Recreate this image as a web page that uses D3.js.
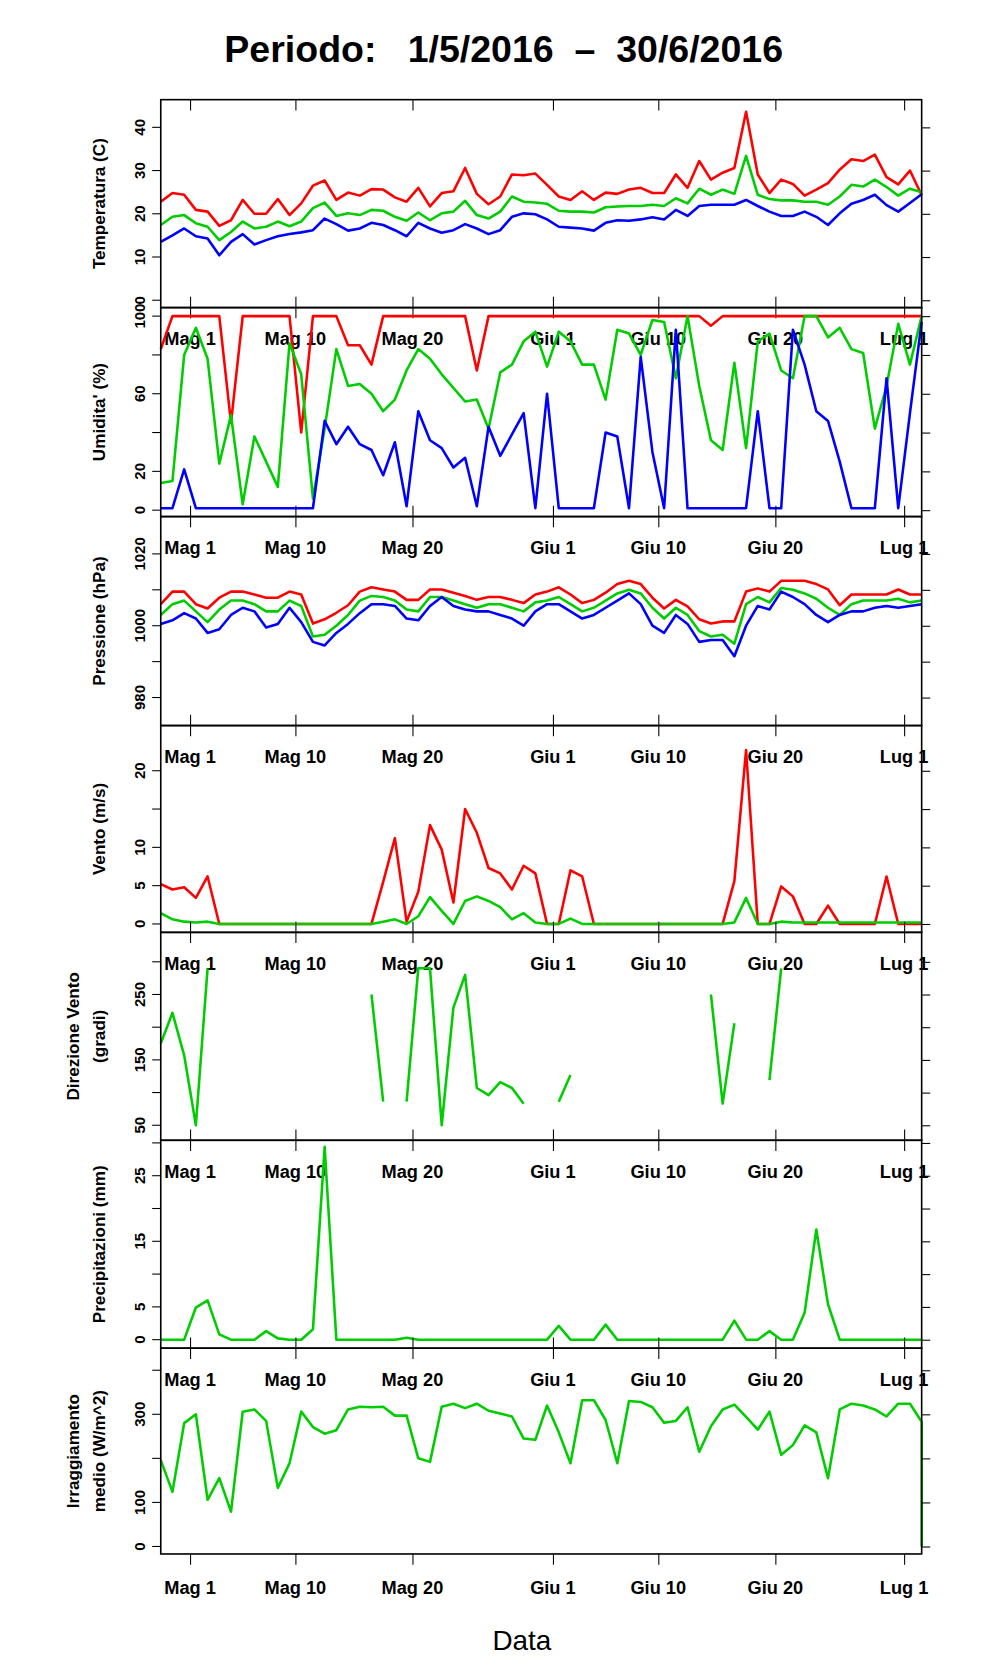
<!DOCTYPE html>
<html><head><meta charset="utf-8">
<script src="https://cdn.jsdelivr.net/npm/d3@7"></script>
<style>body{margin:0;background:#fff}</style></head>
<body><svg id="c" width="996" height="1680"></svg>
<script>
const startDate = new Date(2016,3,28,12);
const tickDates = ["2016-05-01","2016-05-10","2016-05-20","2016-06-01","2016-06-10","2016-06-20","2016-07-01"];
const tickLabels = ["Mag 1","Mag 10","Mag 20","Giu 1","Giu 10","Giu 20","Lug 1"];

const tempMax = [22.8,24.8,24.4,20.9,20.5,17.2,18.5,23.2,20,20,23.4,19.7,22.4,26.5,27.7,23.2,24.9,24.2,25.7,25.6,23.8,22.8,26,21.7,24.8,25.2,30.6,24.6,22.2,24,29.1,28.9,29.3,26.7,24,23.2,25.2,23.2,24.9,24.6,25.6,26,24.8,24.8,29.1,26,32.2,27.9,29.5,30.6,43.6,29.1,24.8,27.9,26.9,24.2,25.6,27.1,30.2,32.6,32.2,33.7,28.5,26.8,30,24.3];
const tempMed = [17.4,19.3,19.7,17.8,17,13.9,15.8,18.2,16.6,17,18.2,17.1,18.2,21.3,22.6,19.5,20.1,19.7,20.9,20.7,19.3,18.4,20.3,18.5,20.1,20.5,23,19.7,18.9,20.5,24,22.8,22.6,22.3,20.7,20.5,20.5,20.3,21.5,21.7,21.8,21.8,22.1,21.8,23.6,22.4,25.8,24.4,25.6,24.6,33.4,24.4,23.4,23.1,23.1,22.8,22.8,22.1,24,26.7,26.3,27.9,26.2,24.2,25.8,25];
const tempMin = [13.5,15,16.6,14.8,14.3,10.4,13.5,15.3,12.9,13.9,14.8,15.3,15.7,16.2,18.9,17.6,16.1,16.6,17.9,17.4,16.2,14.8,17.9,16.6,15.6,16.2,17.6,16.6,15.3,16.2,19.3,20.1,19.9,18.7,17,16.8,16.6,16.1,17.9,18.5,18.4,18.7,19.2,18.7,20.9,19.5,21.8,22.1,22.1,22.1,23.2,21.8,20.5,19.5,19.5,20.5,19.3,17.4,20.1,22.3,23.2,24.4,22,20.5,22.5,24.5];

const humMax = [83,100,100,100,100,100,45,100,100,100,100,100,40,100,100,100,85,85,75,100,100,100,100,100,100,100,100,72,100,100,100,100,100,100,100,100,100,100,100,100,100,100,100,100,100,100,100,95,100,100,100,100,100,100,100,100,100,100,100,100,100,100,100,100,100,100];
const humMed = [14,15,80,94,78,24,49,3,38,25,12,86,70,6,42,83,64,65,60,51,57,72,83,78,70,63,56,57,42,71,75,87,92,74,92,87,75,75,57,93,91,80,98,97,68,100,64,36,31,76,32,87,91,72,68,100,100,89,94,83,81,42,64,96,75,100];
const humMin = [1,1,21,1,1,1,1,1,1,1,1,1,1,1,46,34,43,34,31,18,35,2,51,36,32,22,27,2,43,28,39,50,1,60,1,1,1,1,40,38,1,79,30,1,93,1,1,1,1,1,1,51,1,1,93,75,51,46,25,1,1,1,68,1,50,97];

const presMax = [1006,1009.5,1009.5,1006,1004.8,1007.8,1009.5,1009.5,1008.7,1007.8,1007.8,1009.5,1008.7,1000.6,1001.8,1003.6,1005.7,1009.5,1010.7,1010.1,1009.5,1007.2,1007.2,1010.1,1010.1,1009.2,1008.3,1007.2,1008,1008,1007.2,1006.3,1008.7,1009.5,1010.7,1008.7,1006.3,1007.2,1009.2,1011.6,1012.5,1011.6,1007.8,1004.8,1007.2,1005.4,1001.8,1000.6,1001.2,1001.2,1009.5,1010.4,1009.5,1012.5,1012.5,1012.5,1011.6,1010.1,1005.7,1008.7,1008.7,1008.7,1008.7,1010.1,1008.7,1008.7];
const presMed = [1003,1006,1007,1004,1001,1004.5,1007,1007,1006,1004,1004,1007,1005.5,997,997.5,1000,1003,1007,1008.3,1008,1007,1004.5,1004,1008,1008,1007,1006,1005,1006,1006,1005,1004,1006.5,1007,1008,1006,1004,1005,1007,1009,1010,1009,1005,1002,1005,1003,998.5,997,997.5,995,1006,1008,1006.5,1010.5,1010,1009,1007.5,1005,1003,1006,1007,1007,1007,1007.5,1006.5,1007];
const presMin = [1000.5,1001.5,1003.5,1002,998,999,1003,1005,1004,999.5,1000.5,1005,1001,995.5,994.5,998,1000.5,1003.5,1006,1006,1005.5,1002,1001.5,1005.5,1008,1005.5,1004.5,1004,1004,1003,1002,1000,1004,1006,1006,1004,1002,1003,1005,1007,1009,1006,1000,998,1003,1000.5,995.5,996,996,991.5,1000,1005.5,1004.5,1009.5,1008,1006,1003,1001,1003,1004,1004,1005,1005.5,1005,1005.5,1006];

const windMax = [5.2,4.5,4.8,3.4,6.2,0,0,0,0,0,0,0,0,0,0,0,0,0,0,5.5,11.2,0.3,4.2,12.9,9.7,2.8,15,11.9,7.3,6.6,4.5,7.6,6.6,0,0,7,6.2,0,0,0,0,0,0,0,0,0,0,0,0,5.6,22.7,0,0,4.9,3.6,0,0,2.4,0,0,0,0,6.2,0,0,0];
const windMed = [1.4,0.6,0.3,0.2,0.3,0,0,0,0,0,0,0,0,0,0,0,0,0,0,0.3,0.6,0,1,3.5,1.7,0,3,3.6,3,2.2,0.6,1.4,0.2,0,0,0.7,0,0,0,0,0,0,0,0,0,0,0,0,0,0.2,3.4,0,0,0.3,0.2,0.2,0.2,0.2,0.2,0.2,0.2,0.2,0.2,0.2,0.2,0.2];

const windDir = [175,222,157,50,290,null,null,null,null,null,null,null,null,null,null,null,null,null,250,86,null,86,290,290,50,230,280,107,96,116,107,83,null,null,86,127,null,null,null,null,null,null,null,null,null,null,null,250,83,206,null,null,119,290,null,null,null,null,null,null,null,null,null,null,null,null];

const precip = [0,0,0,4.9,6,0.8,0,0,0,1.3,0.2,0,0,1.6,29.4,0,0,0,0,0,0,0.3,0,0,0,0,0,0,0,0,0,0,0,0,2.1,0,0,0,2.3,0,0,0,0,0,0,0,0,0,0,2.9,0,0,1.3,0,0,4.1,16.8,5.4,0,0,0,0,0,0,0,0];

const irr = [196,124,280,300,106,155,79,306,311,285,133,189,306,271,256,264,311,317,316,317,297,297,200,192,317,324,314,324,308,302,295,245,242,320,259,189,332,332,287,189,330,328,316,281,285,316,215,273,311,322,294,265,306,208,230,275,259,155,311,324,320,311,295,324,324,283,0];

const RED="#ff0000", GREEN="#00cd00", BLUE="#0000ff";
const svg = d3.select("#c");
const root = svg.append("g").attr("transform","scale(1.0717)");
const L=150, R=860;
const fontB="'Liberation Sans', Arial, sans-serif";

const nPts = 66;
const x = d3.scaleTime()
  .domain([startDate, d3.timeDay.offset(startDate, nPts-1)])
  .range([L,R]);
const dateAt = i => d3.timeDay.offset(startDate, i);

const panels = [
  {top:93,bot:287,dom:[-1.7,46.4],ticks:[0,10,20,30,40],lab:[0,10,20,30,40],title:["Temperatura (C)"],series:[[tempMax,RED],[tempMed,GREEN],[tempMin,BLUE]]},
  {top:287,bot:482,dom:[-3.3,104.4],ticks:[0,20,40,60,80,100],lab:[0,20,60,100],title:["Umidita' (%)"],series:[[humMax,RED],[humMed,GREEN],[humMin,BLUE]]},
  {top:482,bot:677,dom:[972.2,1030.4],ticks:[980,990,1000,1010,1020],lab:[980,1000,1020],title:["Pressione (hPa)"],series:[[presMax,RED],[presMed,GREEN],[presMin,BLUE]]},
  {top:677,bot:870,dom:[-1.1,25.9],ticks:[0,5,10,15,20],lab:[0,5,10,20],title:["Vento (m/s)"],series:[[windMax,RED],[windMed,GREEN]]},
  {top:870,bot:1064,dom:[27,345],ticks:[50,100,150,200,250,300],lab:[50,150,250],title:["Direzione Vento","(gradi)"],series:[[windDir,GREEN]]},
  {top:1064,bot:1258,dom:[-1.3,30.4],ticks:[0,5,10,15,20,25,30],lab:[0,5,15,25],title:["Precipitazioni (mm)"],series:[[precip,GREEN]]},
  {top:1258,bot:1450,dom:[-17,450],ticks:[0,100,200,300,400],lab:[0,100,300],title:["Irraggiamento","medio (W/m^2)"],series:[[irr,GREEN]]}
];

root.append("text").attr("x",470).attr("y",58).attr("text-anchor","middle")
  .attr("font-family",fontB).attr("font-weight","bold").attr("font-size",35)
  .attr("xml:space","preserve").text("Periodo:   1/5/2016  \u2013  30/6/2016");

const tks = tickDates.map(d=>d3.timeParse("%Y-%m-%d")(d));

panels.forEach((p,pi)=>{
  const y = d3.scaleLinear().domain(p.dom).range([p.bot,p.top]);
  const g = root.append("g");
  p.series.forEach(([arr,col])=>{
    const line = d3.line().defined(d=>d!=null)
      .x((d,i)=>x(dateAt(Math.min(i,nPts-1)))).y(d=>y(d));
    g.append("path").datum(arr).attr("d",line).attr("fill","none")
      .attr("stroke",col).attr("stroke-width",2.4).attr("stroke-linejoin","round");
  });
  g.append("rect").attr("x",L).attr("y",p.top).attr("width",R-L).attr("height",p.bot-p.top)
    .attr("fill","none").attr("stroke","#000").attr("stroke-width",1.5);
  const ax = d3.axisLeft(y).tickValues(p.ticks).tickSize(8).tickFormat(d=>p.lab.includes(d)?d:"");
  const ga = g.append("g").attr("transform",`translate(${L},0)`).call(ax);
  ga.select(".domain").remove();
  ga.selectAll(".tick").attr("transform",null);
  ga.selectAll(".tick line").attr("y1",d=>y(d)).attr("y2",d=>y(d));
  ga.selectAll(".tick text").attr("font-family",fontB).attr("font-weight","bold").attr("font-size",14)
    .attr("text-anchor","middle").attr("x",-20).attr("y",d=>y(d)).attr("dy","0.35em")
    .attr("transform",d=>`rotate(-90,-20,${y(d)})`);
  const ar = d3.axisRight(y).tickValues(p.ticks).tickSize(8).tickFormat("");
  const gr = g.append("g").attr("transform",`translate(${R},0)`).call(ar);
  gr.select(".domain").remove();
  const cy=(p.top+p.bot)/2;
  p.title.forEach((t,k)=>{
    const xx = p.title.length===1 ? 98 : 74+k*24;
    g.append("text").attr("transform",`translate(${xx},${cy}) rotate(-90)`)
      .attr("text-anchor","middle").attr("font-family",fontB).attr("font-weight","bold")
      .attr("font-size",16).text(t);
  });
  const axb = d3.axisBottom(x).tickValues(tks).tickSize(10).tickFormat("");
  const gb = g.append("g").attr("transform",`translate(0,${p.bot})`).call(axb);
  gb.select(".domain").remove();
  const axt = d3.axisTop(x).tickValues(tks).tickSize(pi===0?-10:10).tickFormat("");
  const gt = g.append("g").attr("transform",`translate(0,${p.top})`).call(axt);
  gt.select(".domain").remove();
  g.selectAll(".xl").data(tks).enter().append("text")
    .attr("x",d=>x(d)).attr("y",p.bot+(pi===6?37:35))
    .attr("text-anchor","middle").attr("font-family","'Liberation Sans Narrow', "+fontB)
    .attr("font-weight","bold").attr("font-size",17)
    .text((d,i)=>tickLabels[i]);
});
root.append("text").attr("x",487).attr("y",1540).attr("text-anchor","middle")
  .attr("font-family",fontB).attr("font-size",26).text("Data");
</script></body></html>
